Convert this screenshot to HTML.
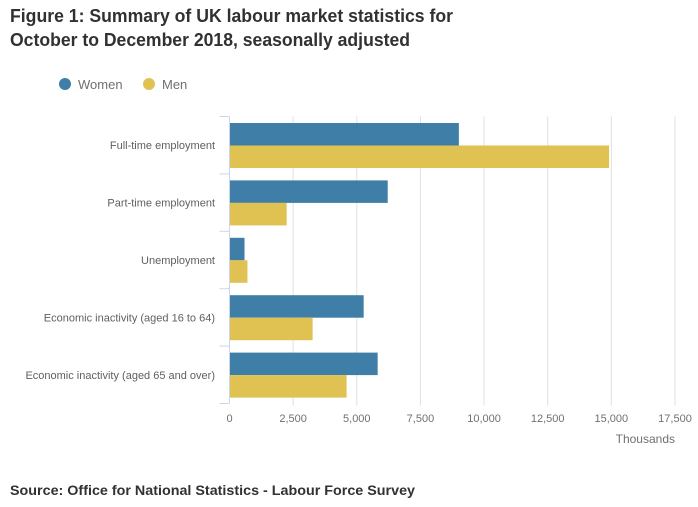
<!DOCTYPE html>
<html><head><meta charset="utf-8"><style>
html,body{margin:0;padding:0;background:#fff;}
svg{display:block;font-family:"Liberation Sans",sans-serif;}
</style></head><body>
<svg id="chart" width="698" height="507">
<text x="10" y="22" font-size="18" font-weight="bold" fill="#323132" textLength="443" lengthAdjust="spacingAndGlyphs">Figure 1: Summary of UK labour market statistics for</text>
<text x="10" y="46" font-size="18" font-weight="bold" fill="#323132" textLength="400" lengthAdjust="spacingAndGlyphs">October to December 2018, seasonally adjusted</text>
<g>
<g><circle cx="65" cy="84" r="6" fill="#3f7fa7"/><text x="78" y="89" font-size="13" fill="#707070">Women</text></g>
<g><circle cx="149" cy="84" r="6" fill="#dfc252"/><text x="162" y="89" font-size="13" fill="#707070">Men</text></g>
</g>
<text x="675" y="443" font-size="12" fill="#707070" text-anchor="end">Thousands</text>
<text x="10" y="495" font-size="14" font-weight="bold" fill="#323132" textLength="405" lengthAdjust="spacingAndGlyphs">Source: Office for National Statistics - Labour Force Survey</text>
<g id="grid"></g><g id="bars"></g><g id="axes"></g>
</svg>
<script>
const categories=["Full-time employment","Part-time employment","Unemployment","Economic inactivity (aged 16 to 64)","Economic inactivity (aged 65 and over)"];
const women=[9010,6215,590,5270,5820];
const men=[14910,2245,705,3265,4600];
const ticks=[0,2500,5000,7500,10000,12500,15000,17500];
const tickLabels=["0","2,500","5,000","7,500","10,000","12,500","15,000","17,500"];
const NS="http://www.w3.org/2000/svg";
const x0=229.5,x1=675,xMax=17500,yTop=116.5,yBottom=403.5;
const xs=v=>x0+(v/xMax)*(x1-x0);
const band=(yBottom-yTop)/categories.length;
function mk(tag,attrs,parent){const e=document.createElementNS(NS,tag);for(const k in attrs)e.setAttribute(k,attrs[k]);parent.appendChild(e);return e;}
const grid=document.getElementById('grid'),bars=document.getElementById('bars'),axes=document.getElementById('axes');
ticks.forEach((t,i)=>{
  const x=xs(t);
  if(i>0){const g=mk('line',{x1:x,x2:x,y1:yTop,y2:yBottom+2,stroke:'#e0e0e0','stroke-width':1},grid);
  
  }
  const lb=mk('text',{x:x,y:422,'font-size':11,fill:'#707070','text-anchor':'middle'},axes);
  lb.textContent=tickLabels[i];
  
  
});
const ax=mk('line',{x1:x0,x2:x0,y1:yTop,y2:yBottom,stroke:'#ccd6eb','stroke-width':1},axes);


for(let i=0;i<=categories.length;i++){
  const y=yTop+i*band;
  const tk=mk('line',{x1:x0-10,x2:x0,y1:y,y2:y,stroke:'#ccd6eb','stroke-width':1},axes);
  
  
}
categories.forEach((c,i)=>{
  const y=yTop+i*band;
  const bh=22.5, y0=y+6.5;
  const bw=mk('rect',{x:x0+0.5,y:y0,width:xs(women[i])-x0-0.5,height:bh,fill:'#3f7fa7'},bars);
  
  
  const bm=mk('rect',{x:x0+0.5,y:y0+bh,width:xs(men[i])-x0-0.5,height:bh,fill:'#dfc252'},bars);
  
  
  const lb=mk('text',{x:215,y:y+band/2+4,'font-size':11,fill:'#606060','text-anchor':'end'},axes);
  lb.textContent=c;
  
  
});
</script>
</body></html>
